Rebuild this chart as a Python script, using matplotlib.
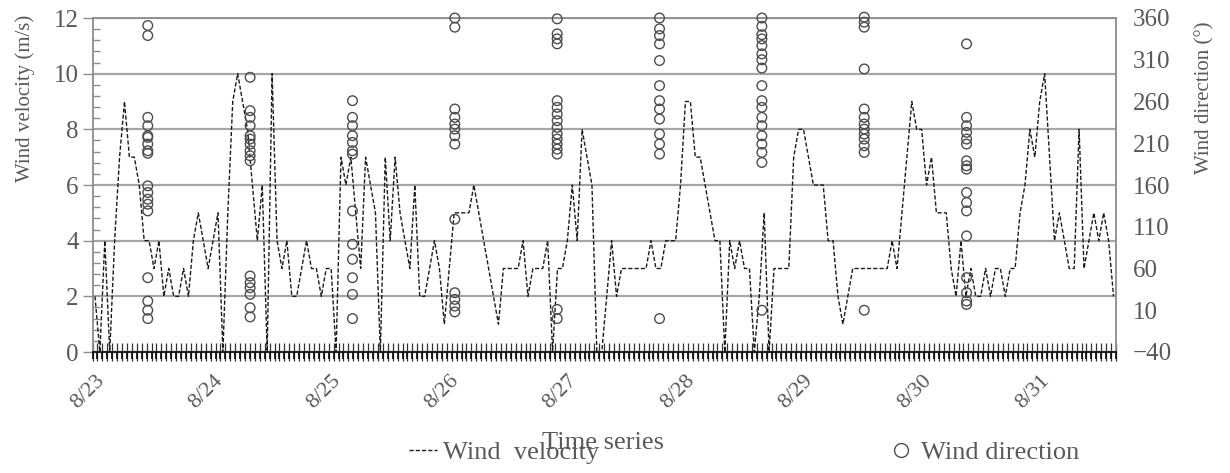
import matplotlib
matplotlib.use("Agg")
import matplotlib.pyplot as plt
import matplotlib.transforms as mtransforms
from matplotlib.ticker import MultipleLocator, FixedLocator
from matplotlib.lines import Line2D
import numpy as np

# Hourly wind velocity (m/s), starting 8/23 00:00
velocity = [
    2, 0, 4, 0, 4, 7, 9, 7, 7, 6, 4, 4, 3, 4, 2, 3, 2, 2, 3, 2, 4, 5, 4, 3,      # 8/23
    4, 5, 0, 5, 9, 10, 9, 8, 6, 4, 6, 0, 10, 4, 3, 4, 2, 2, 3, 4, 3, 3, 2, 3,    # 8/24
    3, 0, 7, 6, 7, 5, 3, 7, 6, 5, 0, 7, 4, 7, 5, 4, 3, 6, 2, 2, 3, 4, 3, 1,      # 8/25
    3, 5, 5, 5, 5, 6, 5, 4, 3, 2, 1, 3, 3, 3, 3, 4, 2, 3, 3, 3, 4, 0, 3, 3,      # 8/26
    4, 6, 4, 8, 7, 6, 0, 0, 2, 4, 2, 3, 3, 3, 3, 3, 3, 4, 3, 3, 4, 4, 4, 6,      # 8/27
    9, 9, 7, 7, 6, 5, 4, 4, 0, 4, 3, 4, 3, 3, 0, 2, 5, 0, 3, 3, 3, 3, 7, 8,      # 8/28
    8, 7, 6, 6, 6, 4, 4, 2, 1, 2, 3, 3, 3, 3, 3, 3, 3, 3, 4, 3, 5, 7, 9, 8,      # 8/29
    8, 6, 7, 5, 5, 5, 3, 2, 4, 2, 3, 2, 2, 3, 2, 3, 3, 2, 3, 3, 5, 6, 8, 7,      # 8/30
    9, 10, 7, 4, 5, 4, 3, 3, 8, 3, 4, 5, 4, 5, 4, 2,                             # 8/31
]
day_labels = ['8/23', '8/24', '8/25', '8/26', '8/27', '8/28', '8/29', '8/30', '8/31']

# Wind direction readings (deg), one group per observation
dir_1 = [351, 339, 241, 231, 219, 217, 209, 201, 198, 159, 151, 143, 137, 129, 49, 21, 10, 0]
dir_2 = [289, 249, 241, 231, 219, 215, 209, 201, 195, 189, 51, 43, 37, 29, 13, 2]
dir_3 = [261, 241, 231, 219, 211, 201, 197, 129, 89, 71, 49, 29, 0]
dir_4 = [360, 349, 251, 241, 233, 227, 219, 209, 119, 31, 23, 15, 8]
dir_5 = [359, 341, 335, 329, 261, 253, 245, 237, 229, 221, 215, 209, 203, 197, 11, 0]
dir_6 = [360, 347, 339, 329, 309, 279, 261, 251, 239, 221, 209, 197, 0]
dir_7 = [360, 350, 340, 335, 327, 317, 310, 300, 279, 261, 253, 241, 231, 219, 209, 199, 187, 10]
dir_8 = [361, 355, 349, 299, 251, 241, 233, 227, 221, 215, 207, 199, 10]
dir_9 = [329, 241, 231, 223, 215, 209, 189, 183, 179, 151, 139, 129, 99, 49, 31, 21, 17]
direction_groups = [dir_1, dir_2, dir_3, dir_4, dir_5, dir_6, dir_7, dir_8, dir_9]

TEXT = '#595959'
GRID = '#a6a6a6'
plt.rcParams['font.family'] = ['Liberation Serif', 'DejaVu Serif']

fig = plt.figure(figsize=(12.3, 4.73), dpi=100)
rect = [92.5 / 1230, 1 - 352 / 473, (1116 - 92.5) / 1230, (352 - 18) / 473]
ax = fig.add_axes(rect)

hours = np.arange(len(velocity))
line, = ax.plot(hours, velocity, color='#1a1a1a', lw=1.0, ls=(0, (3, 1.5)), zorder=3)

ax.set_xlim(-0.5, len(velocity) - 0.5)
ax.set_ylim(0, 12)
ax.yaxis.set_major_locator(MultipleLocator(2))
ax.yaxis.set_minor_locator(MultipleLocator(0.4))
ax.yaxis.grid(True, which='major', color=GRID, lw=1.6)
ax.set_axisbelow(True)

# dates every 24 h, a crossing tick mark between every hourly category
ax.xaxis.set_major_locator(FixedLocator(np.arange(0, len(velocity), 24)))
ax.set_xticklabels(day_labels[:len(ax.get_xticks())], rotation=45, ha='right',
                   rotation_mode='anchor', fontsize=16, color=TEXT)
shift = mtransforms.ScaledTranslation(-4 / 100, 2 / 100, fig.dpi_scale_trans)
for lab in ax.get_xticklabels():
    lab.set_transform(lab.get_transform() + shift)
hour_edges = np.arange(-0.5, len(velocity), 1)
ax.xaxis.set_minor_locator(FixedLocator(hour_edges))
ax.tick_params(axis='x', which='major', length=0, pad=14)
ax.tick_params(axis='x', which='minor', direction='inout', length=13, width=0.9, color='#333333')
ax.tick_params(axis='y', which='major', direction='out', length=7, width=1, color='#8c8c8c',
               labelsize=18, labelcolor=TEXT, pad=3)
ax.tick_params(axis='y', which='minor', direction='in', length=5, width=1, color='#8c8c8c')
ax.tick_params(axis='y', which='both', right=False)
for side in ['left', 'right', 'top']:
    ax.spines[side].set_color('#8c8c8c')
    ax.spines[side].set_linewidth(1.3)
ax.spines['bottom'].set_color('#222222')
ax.spines['bottom'].set_linewidth(1.5)

# heavier outer half of the hourly tick marks
ax_ticks = ax.twiny()
ax_ticks.set_xlim(ax.get_xlim())
ax_ticks.xaxis.set_ticks_position('bottom')
ax_ticks.set_xticks(hour_edges)
ax_ticks.tick_params(axis='x', direction='out', length=5, width=1.3, color='#111111', labelbottom=False)
for side in ax_ticks.spines:
    ax_ticks.spines[side].set_visible(False)

# wind direction on its own scale, drawn over the velocity axes
ax2 = fig.add_axes(rect, facecolor='none')
for k, group in enumerate(direction_groups):
    ax2.scatter([k] * len(group), group, s=48, facecolors='none', edgecolors='#4d4d4d',
                linewidths=1.0, clip_on=False, zorder=4)
ax2.set_xlim(-0.54, 9.46)
ax2.set_ylim(-40, 360)
ax2.set_yticks(np.arange(-40, 361, 50))
ax2.yaxis.tick_right()
ax2.tick_params(axis='y', length=0, labelsize=18, labelcolor=TEXT, pad=12)
ax2.xaxis.set_visible(False)
for side in ax2.spines:
    ax2.spines[side].set_visible(False)

fig.text(25 / 1230, 1 - 98 / 473, 'Wind velocity (m/s)', rotation=90, ha='center', va='center',
         fontsize=15, color=TEXT)
fig.text(1205 / 1230, 1 - 98 / 473, 'Wind direction (°)', rotation=90, ha='center', va='center',
         fontsize=15, color=TEXT)
fig.text(603 / 1230, 1 - 443 / 473, 'Time series', ha='center', va='center', fontsize=19, color=TEXT)

dir_handle = Line2D([], [], ls='none', marker='o', markersize=10, markerfacecolor='none',
                    markeredgecolor='#4d4d4d', markeredgewidth=1.0)
fig.legend([line, dir_handle], ['Wind  velocity', 'Wind direction'], ncol=2, frameon=False,
           loc='center left', bbox_to_anchor=(385 / 1230, 1 - 452 / 473), fontsize=19,
           labelcolor=TEXT, handlelength=1.06, handletextpad=0.23, columnspacing=10.9)

fig.savefig('out.png', dpi=100)
